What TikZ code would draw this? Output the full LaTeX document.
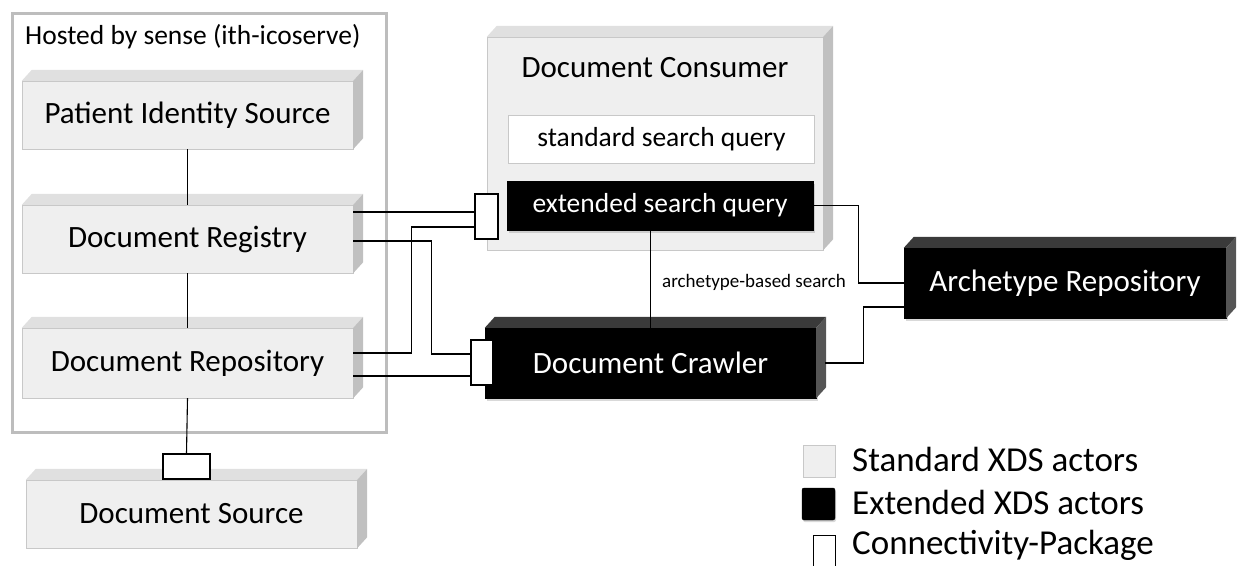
\documentclass[tikz,border=0pt]{standalone}
\usepackage{fontspec}
\setmainfont{Carlito}
\usetikzlibrary{positioning, calc, shadows}

\definecolor{actgray}{HTML}{EFEFEF}
\definecolor{actline}{HTML}{C8C8C8}
\definecolor{acttop}{HTML}{E0E0E0}
\definecolor{actside}{HTML}{C0C0C0}
\definecolor{exttop}{HTML}{3A3A3A}
\definecolor{extside}{HTML}{555555}
\definecolor{hostline}{HTML}{BDBDBD}

% top and right face of a box node
\newcommand{\extrude}[3]{%
  \fill[#2] (#1.north west) -- ++(10,-11) -- ($(#1.north east)+(10,-11)$) -- (#1.north east) -- cycle;
  \fill[#3] (#1.north east) -- ++(10,-11) -- ($(#1.south east)+(10,-11)$) -- (#1.south east) -- cycle;
}

\tikzset{
  actor/.style={draw=actline, fill=actgray, minimum width=331pt, minimum height=68pt,
    inner sep=0pt, font=\fontsize{31}{36}\selectfont},
  extactor/.style={actor, draw=black, fill=black, text=white,
    drop shadow={opacity=0.3, shadow xshift=2pt, shadow yshift=-3pt}},
  query/.style={draw=actline, fill=white, minimum width=306pt, minimum height=48pt,
    inner sep=0pt, font=\fontsize{27.5}{32}\selectfont},
  package/.style={draw=black, fill=white, line width=1.3pt, inner sep=0pt},
  wire/.style={line width=1.1pt},
  legendtext/.style={anchor=west, inner sep=0pt, font=\fontsize{35}{40}\selectfont},
}

\begin{document}
\begin{tikzpicture}[x=1pt, y=-1pt]
    \useasboundingbox (0,0) rectangle (1241,565);

    % frame of the hosted actors
    \draw[hostline, line width=3pt] (12,13) rectangle (386,432);
    \node[anchor=west, inner sep=0pt, font=\fontsize{27.5}{32}\selectfont] (host) at (25,37) {Hosted by sense (ith-icoserve)};

    % standard XDS actors
    \node[actor] (pis) at (187.5,115) {Patient Identity Source};
    \extrude{pis}{acttop}{actside}
    \node[actor] (reg) at (187.5,239) {Document Registry};
    \extrude{reg}{acttop}{actside}
    \node[actor, minimum height=70pt] (rep) at (187.5,363) {Document Repository};
    \extrude{rep}{acttop}{actside}
    \node[actor] (src) at (191.5,514) {Document Source};
    \extrude{src}{acttop}{actside}

    % document consumer with its two queries
    \node[actor, minimum width=336pt, minimum height=213pt] (con) at (655,143.5) {};
    \extrude{con}{acttop}{actside}
    \node[font=\fontsize{31}{36}\selectfont] (contitle) at (655,68) {Document Consumer};
    \node[query] (stdq) at (661.5,139) {standard search query};
    \node[query, draw=black, fill=black, text=white, minimum height=49pt,
      drop shadow={opacity=0.3, shadow xshift=2pt, shadow yshift=-3pt}] (extq) at (660,205.5) {extended search query};

    % extended XDS actors
    \node[extactor, minimum height=70pt] (crawl) at (650.5,363) {Document Crawler};
    \extrude{crawl}{exttop}{extside}
    \node[extactor, minimum width=322pt, minimum height=70pt] (arch) at (1065,283) {Archetype Repository};
    \extrude{arch}{exttop}{extside}

    % connectivity packages
    \node[package, minimum width=23pt, minimum height=45pt] (pkgA) at (486.5,216.5) {};
    \node[package, minimum width=22pt, minimum height=45pt] (pkgB) at (482,362.5) {};
    \node[package, minimum width=47pt, minimum height=25pt] (pkgC) at (186.5,466.5) {};

    % connections inside the hosted frame
    \draw[wire] (pis) -- (reg);
    \draw[wire] (reg) -- (rep);
    \draw[wire] (rep.south) -- (pkgC.north);

    % registry and repository to the packages
    \coordinate (g1) at ($(reg.east)+(0,-27)$);
    \coordinate (g2) at ($(reg.east)+(0,2)$);
    \coordinate (r1) at ($(rep.east)+(0,-10)$);
    \coordinate (r2) at ($(rep.east)+(0,13)$);
    \coordinate (a2) at ($(pkgA.west)+(0,10.5)$);
    \coordinate (b1) at ($(pkgB.west)+(0,-8.5)$);
    \draw[wire] (g1) -- (g1 -| pkgA.west);
    \draw[wire] (r1) -- ++(58,0) |- (a2);
    \draw[wire] (g2) -- ++(78,0) |- (b1);
    \draw[wire] (r2) -- (r2 -| pkgB.west);

    % queries, crawler and archetypes
    \draw[wire] (crawl.north) -- (crawl.north |- extq.south);
    \draw[wire] (extq.east) -- ++(45,0) |- (arch.west);
    \draw[wire] ($(crawl.east)+(9,0)$) -- ++(38,0) |- ($(arch.west)+(0,24)$);
    \node[font=\fontsize{19}{22}\selectfont, inner sep=0pt] (lbl) at (754,282) {archetype-based search};

    % legend
    \node[draw=actline, fill=actgray, minimum width=32pt, minimum height=32pt, inner sep=0pt] (legstd) at (819,461) {};
    \node[legendtext] (legstdtxt) at (852,459) {Standard XDS actors};
    \node[draw=black, fill=black, rounded corners=2pt, minimum width=33pt, minimum height=32pt, inner sep=0pt,
      drop shadow={opacity=0.3, shadow xshift=1pt, shadow yshift=-2pt}] (legext) at (818.5,504) {};
    \node[legendtext] (legexttxt) at (852,502) {Extended XDS actors};
    \node[package, line width=1pt, minimum width=22pt, minimum height=36pt] (legpkg) at (824,553) {};
    \node[legendtext] (legpkgtxt) at (852,545) {Connectivity-Package};

\end{tikzpicture}
\end{document}
